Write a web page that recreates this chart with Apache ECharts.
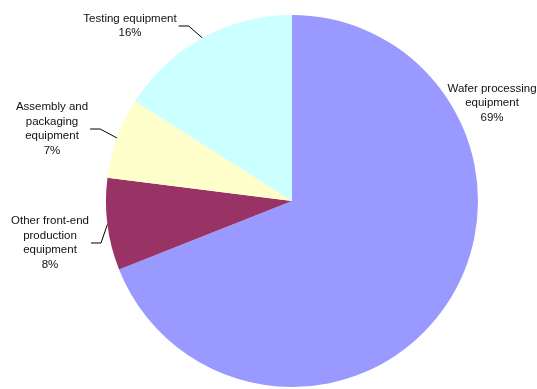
<!DOCTYPE html>
<html>
<head>
<meta charset="utf-8">
<script src="https://cdn.jsdelivr.net/npm/echarts@6/dist/echarts.min.js"></script>
<style>
  html, body { margin: 0; padding: 0; background: #fff; }
  #chart { width: 537px; height: 389px; }
</style>
</head>
<body>
<div id="chart"></div>
<script>
// Equipment segments, clockwise from 12 o'clock
const categories = [
  'Wafer processing\nequipment',
  'Other front-end\nproduction\nequipment',
  'Assembly and\npackaging\nequipment',
  'Testing equipment'
];
const shares = [69, 8, 7, 16];
const colors = ['#9999FF', '#993366', '#FFFFCC', '#CCFFFF'];

// Where each label block sits (centre of the text block)
const labelSpots = [
  [492, 103],
  [50, 243],
  [52, 129],
  [130, 26]
];

const chart = echarts.init(document.getElementById('chart'), null, { renderer: 'canvas' });

chart.setOption({
  animation: false,
  backgroundColor: '#ffffff',
  series: [{
    type: 'pie',
    center: [292, 201],
    radius: 186,
    startAngle: 90,
    clockwise: true,
    avoidLabelOverlap: false,
    silent: true,
    data: categories.map((name, i) => ({
      name: name,
      value: shares[i],
      itemStyle: { color: colors[i] },
      labelLine: { show: i !== 0 }
    })),
    label: {
      show: true,
      position: 'outside',
      formatter: p => p.name + '\n' + p.value + '%',
      fontFamily: 'Liberation Sans, Arial, sans-serif',
      fontSize: 11.5,
      lineHeight: 14.5,
      color: '#111',
      align: 'center',
      padding: [0, 2]
    },
    labelLine: {
      show: true,
      length: 10,
      length2: 10,
      lineStyle: { color: '#000', width: 1 }
    },
    labelLayout: function (params) {
      const spot = labelSpots[params.dataIndex];
      return {
        x: spot[0],
        y: spot[1],
        align: 'center',
        verticalAlign: 'middle'
      };
    }
  }]
});
</script>
</body>
</html>
